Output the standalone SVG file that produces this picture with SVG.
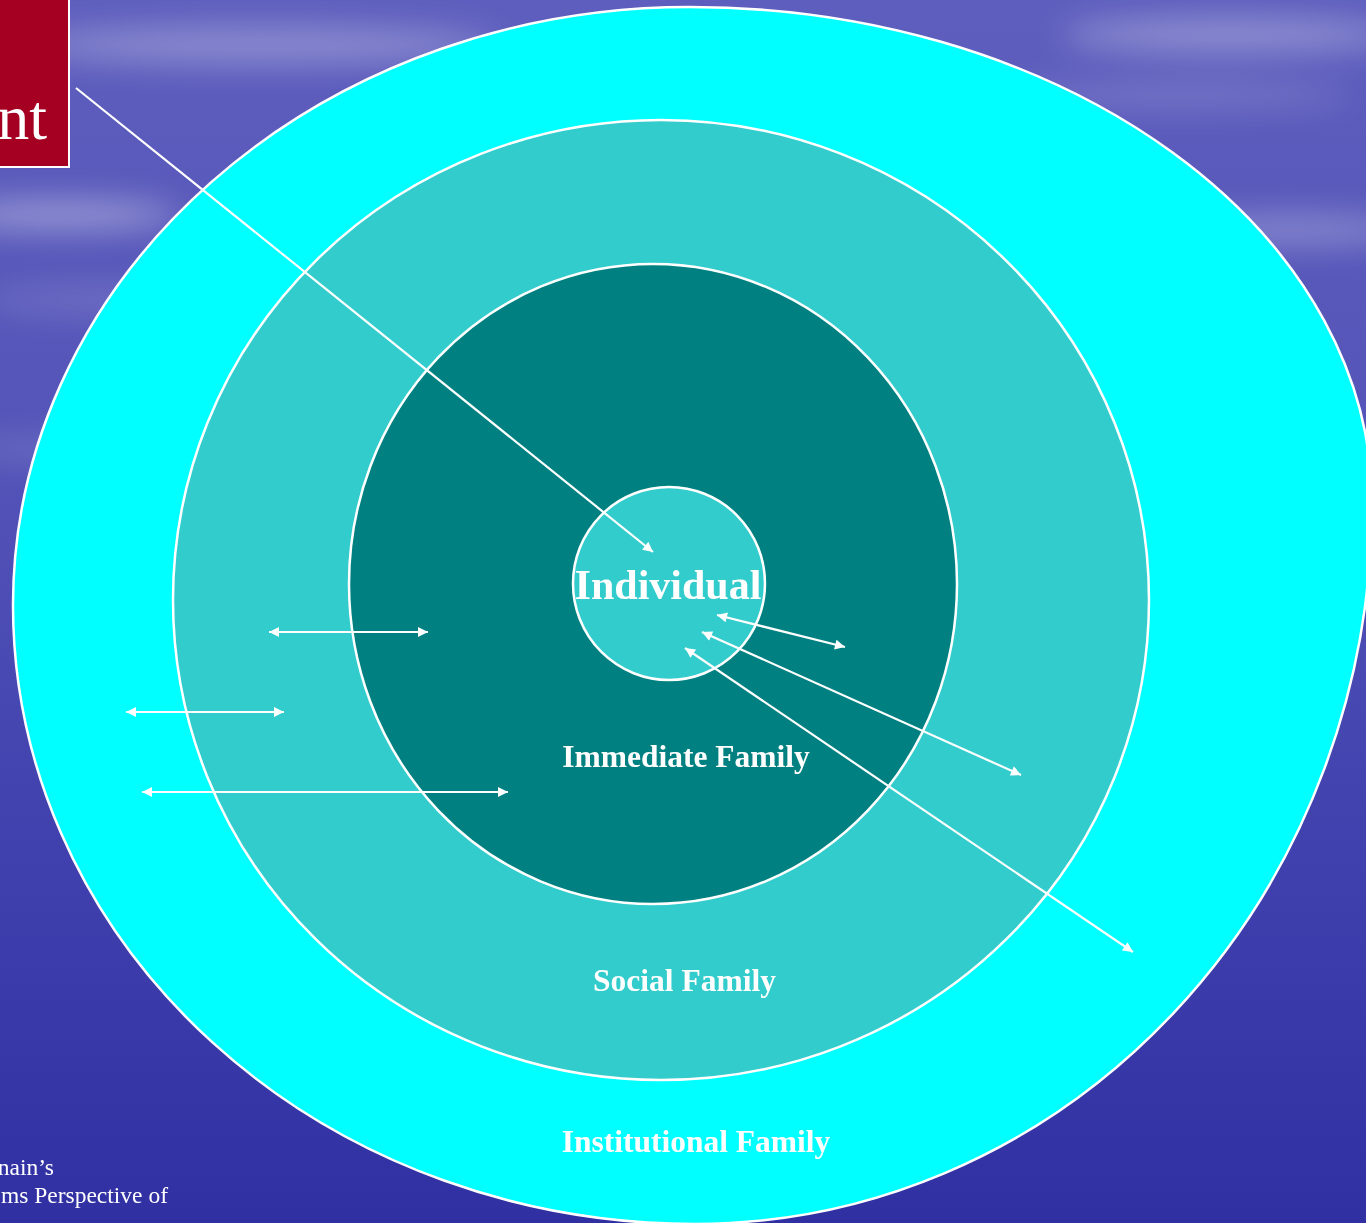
<svg xmlns="http://www.w3.org/2000/svg" width="1366" height="1223" viewBox="0 0 1366 1223">
<defs>
<style>
.ring{stroke:#ffffff;stroke-width:2.5}
.lbl{font-family:"Liberation Serif","Times New Roman",serif;font-weight:bold;fill:#ffffff;text-anchor:middle}
.cap{font-family:"Liberation Serif","Times New Roman",serif;fill:#ffffff;font-size:23.5px;text-anchor:end}
.conn{stroke:#ffffff;stroke-width:2.2;fill:none}
</style>
<linearGradient id="sky" x1="0" y1="0" x2="0" y2="1">
<stop offset="0" stop-color="#5e5ebe"/>
<stop offset="0.35" stop-color="#5555b9"/>
<stop offset="0.7" stop-color="#4040ae"/>
<stop offset="1" stop-color="#3030a3"/>
</linearGradient>
<filter id="blur" x="-50%" y="-300%" width="200%" height="700%">
<feGaussianBlur stdDeviation="16"/>
</filter>
<marker id="ah" viewBox="0 0 10 10" refX="10" refY="5" markerWidth="12" markerHeight="10" markerUnits="userSpaceOnUse" orient="auto-start-reverse">
<path d="M0,0 L10,5 L0,10 z" fill="#ffffff"/>
</marker>
</defs>

<g id="background">
<rect x="0" y="0" width="1366" height="1223" fill="url(#sky)"/>
<g filter="url(#blur)" fill="#ffffff">
<ellipse cx="260" cy="45" rx="240" ry="20" opacity="0.28"/>
<ellipse cx="60" cy="215" rx="120" ry="14" opacity="0.4"/>
<ellipse cx="130" cy="300" rx="150" ry="14" opacity="0.15"/>
<ellipse cx="1230" cy="35" rx="170" ry="18" opacity="0.3"/>
<ellipse cx="1290" cy="230" rx="120" ry="14" opacity="0.3"/>
<ellipse cx="1180" cy="95" rx="170" ry="12" opacity="0.18"/>
<ellipse cx="60" cy="450" rx="100" ry="14" opacity="0.12"/>
</g>
</g>

<g id="title-box">
<rect x="-10" y="-10" width="79" height="177" fill="#a50021" stroke="#ffffff" stroke-width="2"/>
<text x="47" y="139" font-family="'Liberation Serif','Times New Roman',serif" font-size="64" fill="#ffffff" text-anchor="end">nt</text>
</g>

<g id="node-institutional">
<path class="ring" fill="#00ffff" d="M13,605 A677,598 0 0 1 690,7 A682,496 0 0 1 1372,503 A677,721 0 0 1 695,1224 A682,619 0 0 1 13,605 Z"/>
<text class="lbl" x="696" y="1152" font-size="31.5">Institutional Family</text>
</g>

<g id="node-social">
<ellipse class="ring" cx="661" cy="600" rx="488" ry="480" fill="#33cccc"/>
<text class="lbl" x="684.5" y="991" font-size="31.5">Social Family</text>
</g>

<g id="node-immediate">
<ellipse class="ring" cx="653" cy="584" rx="304" ry="320" fill="#008080"/>
<text class="lbl" x="686" y="767" font-size="31.5">Immediate Family</text>
</g>

<g id="node-individual">
<ellipse class="ring" cx="669" cy="583.5" rx="96" ry="96.5" fill="#33cccc"/>
<text class="lbl" x="668" y="599" font-size="42">Individual</text>
</g>

<g id="connectors">
<line class="conn" x1="76" y1="88" x2="653" y2="552" marker-end="url(#ah)"/>
<line class="conn" x1="269" y1="632" x2="428" y2="632" marker-start="url(#ah)" marker-end="url(#ah)"/>
<line class="conn" x1="126" y1="712" x2="284" y2="712" marker-start="url(#ah)" marker-end="url(#ah)"/>
<line class="conn" x1="142" y1="792" x2="508" y2="792" marker-start="url(#ah)" marker-end="url(#ah)"/>
<line class="conn" x1="717" y1="615" x2="845" y2="647" marker-start="url(#ah)" marker-end="url(#ah)"/>
<line class="conn" x1="702" y1="632" x2="1021" y2="775" marker-start="url(#ah)" marker-end="url(#ah)"/>
<line class="conn" x1="685" y1="648" x2="1133" y2="952" marker-start="url(#ah)" marker-end="url(#ah)"/>
</g>

<g id="caption">
<text class="cap" x="54" y="1175">nain’s</text>
<text class="cap" x="168" y="1203">ms Perspective of</text>
</g>
</svg>
